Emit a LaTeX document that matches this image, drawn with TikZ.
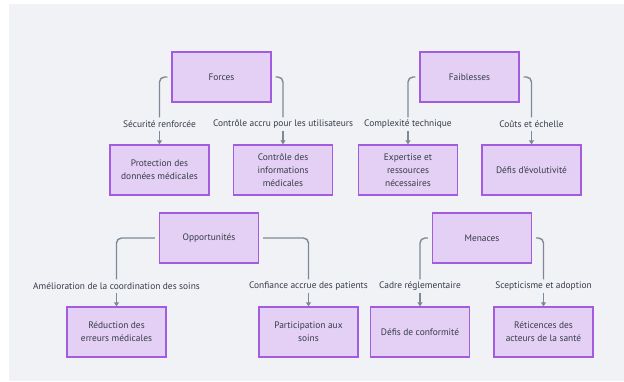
\documentclass[tikz,border=0pt]{standalone}
\usepackage{fontspec}
\setmainfont{PT Sans}
\usetikzlibrary{arrows.meta}
\definecolor{bgc}{HTML}{F0F2F5}
\definecolor{boxfill}{HTML}{E4D0F4}
\definecolor{boxdraw}{HTML}{A35CE0}
\definecolor{txt}{HTML}{363B47}
\definecolor{conn}{HTML}{7D8A96}
\tikzset{
  box/.style={draw=boxdraw, fill=boxfill, line width=1.3pt, minimum width=99pt, minimum height=50pt,
    inner sep=0pt, align=center, text=txt, font=\fontsize{9.4}{13}\selectfont},
  lab/.style={inner sep=0pt, minimum height=13pt, text=txt, font=\fontsize{9.4}{11}\selectfont},
  link/.style={draw=conn, line width=1.4pt, rounded corners=5pt, shorten <=4pt},
  arr/.style={draw=conn, line width=1.2pt, -{Triangle[length=4pt,width=5pt]}},
}
\begin{document}
\begin{tikzpicture}[x=1pt,y=-1pt]
\useasboundingbox (0,0) rectangle (624,381);
\fill[bgc] (9,4) rectangle (624,381);

% top row
\node[box] (forces) at (221.5,77) {Forces};
\node[box] (prot) at (159.5,170) {Protection des\\données médicales};
\node[box] (ctrl) at (283,170) {Contrôle des\\informations\\médicales};
\node[lab] (l1) at (159.5,124) {Sécurité renforcée};
\node[lab] (l2) at (283,124) {Contrôle accru pour les utilisateurs};

\node[box] (faib) at (469.5,77) {Faiblesses};
\node[box] (exp) at (408,170) {Expertise et\\ressources\\nécessaires};
\node[box] (evol) at (531.5,170) {Défis d’évolutivité};
\node[lab] (l3) at (408,124) {Complexité technique};
\node[lab] (l4) at (531.5,124) {Coûts et échelle};

% bottom row
\node[box] (opp) at (209,238) {Opportunités};
\node[box] (red) at (116.5,332) {Réduction des\\erreurs médicales};
\node[box] (part) at (308.5,332) {Participation aux\\soins};
\node[lab] (l5) at (116.5,286) {Amélioration de la coordination des soins};
\node[lab] (l6) at (308.5,286) {Confiance accrue des patients};

\node[box] (men) at (482,238) {Menaces};
\node[box] (conf) at (420,332) {Défis de conformité};
\node[box] (ret) at (543.5,332) {Réticences des\\acteurs de la santé};
\node[lab] (l7) at (420,286) {Cadre réglementaire};
\node[lab] (l8) at (543.5,286) {Scepticisme et adoption};

% connectors
\draw[link] (forces.west) -| (l1.north);
\draw[link] (forces.east) -| (l2.north);
\draw[link] (faib.west) -| (l3.north);
\draw[link] (faib.east) -| (l4.north);
\draw[link] (opp.west) -| (l5.north);
\draw[link] (opp.east) -| (l6.north);
\draw[link] (men.west) -| (l7.north);
\draw[link] (men.east) -| (l8.north);

\draw[arr] (l1.south) -- (prot.north);
\draw[arr] (l2.south) -- (ctrl.north);
\draw[arr] (l3.south) -- (exp.north);
\draw[arr] (l4.south) -- (evol.north);
\draw[arr] (l5.south) -- (red.north);
\draw[arr] (l6.south) -- (part.north);
\draw[arr] (l7.south) -- (conf.north);
\draw[arr] (l8.south) -- (ret.north);
\end{tikzpicture}
\end{document}
